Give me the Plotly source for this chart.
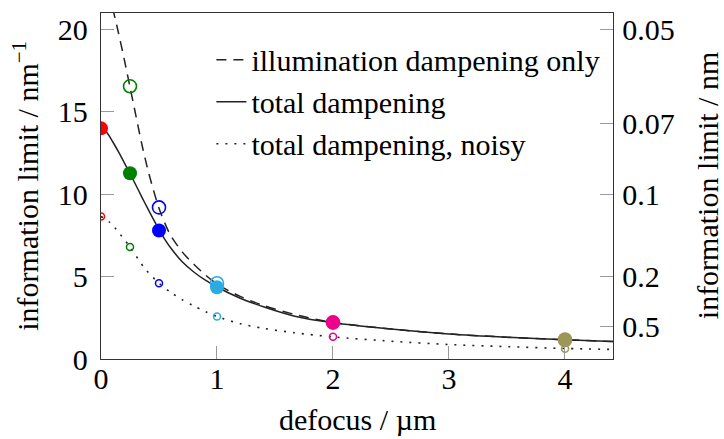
import plotly.graph_objects as go

# ---- data ----
defocus_pts = [0, 0.25, 0.5, 1, 2, 4]
pt_colors = ["#FF0000", "#008000", "#0000FF", "#2AACE2", "#EC008C", "#9C9755"]

total_pts = [14.0, 11.27, 7.8, 4.35, 2.2, 1.2]
illum_pts_x = [0.25, 0.5, 1, 2, 4]
illum_pts = [16.55, 9.2, 4.6, 2.22, 1.15]
illum_colors = pt_colors[1:]
noisy_pts = [8.65, 6.8, 4.6, 2.58, 1.35, 0.62]

total_x = [0, 0.05, 0.1, 0.15, 0.2, 0.25, 0.3, 0.35, 0.4, 0.45, 0.5, 0.55, 0.6, 0.7, 0.8, 0.9, 1.0,
           1.2, 1.4, 1.67, 2.0, 2.5, 3.0, 3.5, 4.0, 4.414]
total_y = [14.0, 13.75, 13.2, 12.58, 11.92, 11.26, 10.56, 9.86, 9.17, 8.5, 7.85, 7.26, 6.75, 5.9, 5.28, 4.78, 4.37,
           3.69, 3.17, 2.6, 2.2, 1.82, 1.52, 1.32, 1.17, 1.06]

illum_x = [0.1, 0.144, 0.2, 0.25, 0.3, 0.35, 0.4, 0.45, 0.5, 0.55, 0.6, 0.7, 0.8, 0.9, 1.0,
           1.2, 1.4, 1.7, 2.0, 2.5, 3.0, 3.5, 4.0, 4.414]
illum_y = [21.3, 20.0, 18.2, 16.5, 14.8, 13.1, 11.6, 10.3, 9.15, 8.25, 7.5, 6.5, 5.75, 5.1, 4.55,
           3.8, 3.25, 2.65, 2.22, 1.82, 1.52, 1.32, 1.17, 1.06]

noisy_x = [0, 0.075, 0.133, 0.25, 0.377, 0.5, 0.6, 0.7, 0.8, 0.9, 1.0, 1.2, 1.4, 1.67, 2.0, 2.5, 3.0, 3.5, 4.0, 4.414]
noisy_y = [8.65, 8.3, 7.85, 6.8, 5.5, 4.6, 4.05, 3.6, 3.22, 2.88, 2.58, 2.14, 1.86, 1.59, 1.34, 1.08, 0.88, 0.75, 0.64, 0.58]

left_ticks = [0, 5, 10, 15, 20]
x_ticks = [0, 1, 2, 3, 4]
right_tick_labels = ["0.05", "0.07", "0.1", "0.2", "0.5"]   # nm
right_tick_vals = [1 / float(v) for v in right_tick_labels]

FONT = "Liberation Serif"
FS = 30

fig = go.Figure()

fig.add_trace(go.Scatter(x=illum_x, y=illum_y, mode="lines", name="illumination dampening only",
                         line=dict(color="#222", width=1.5, dash="10px,7px", shape="spline", smoothing=0.8),
                         legendgroup="a"))
fig.add_trace(go.Scatter(x=total_x, y=total_y, mode="lines", name="total dampening",
                         line=dict(color="#222", width=1.5, shape="spline", smoothing=0.8),
                         legendgroup="b"))
fig.add_trace(go.Scatter(x=noisy_x, y=noisy_y, mode="lines", name="total dampening, noisy",
                         line=dict(color="#222", width=1.6, dash="2px,7px", shape="spline", smoothing=0.8),
                         legendgroup="c"))

# illumination-only markers (open, large)
fig.add_trace(go.Scatter(x=illum_pts_x, y=illum_pts, mode="markers", showlegend=False,
                         marker=dict(symbol="circle-open", size=13, color=illum_colors,
                                     line=dict(width=1.6, color=illum_colors))))
# total dampening markers (filled)
fig.add_trace(go.Scatter(x=defocus_pts, y=total_pts, mode="markers", showlegend=False,
                         marker=dict(symbol="circle", size=14, color=pt_colors, line=dict(width=0))))
# noisy markers (open, small)
fig.add_trace(go.Scatter(x=defocus_pts, y=noisy_pts, mode="markers", showlegend=False,
                         marker=dict(symbol="circle-open", size=7, color=pt_colors,
                                     line=dict(width=1.5, color=pt_colors))))
# carrier for the right axis
fig.add_trace(go.Scatter(x=[0], y=[0], yaxis="y2", mode="markers", showlegend=False,
                         marker=dict(opacity=0), hoverinfo="skip"))

axis_common = dict(showgrid=False, zeroline=False, showline=True, linecolor="#333", linewidth=1.3,
                   ticks="inside", ticklen=13, tickwidth=1, tickcolor="#999", automargin=False,
                   tickfont=dict(family=FONT, size=FS, color="black"))

fig.update_layout(
    width=724, height=439,
    margin=dict(l=101, r=111, t=13, b=80),
    paper_bgcolor="white", plot_bgcolor="white",
    font=dict(family=FONT, size=FS, color="black"),
    xaxis=dict(range=[0, 4.414], tickvals=x_ticks, mirror=True, ticklabelstandoff=-7, **axis_common),
    yaxis=dict(range=[0, 21], tickvals=left_ticks, ticklabelstandoff=6, **axis_common),
    yaxis2=dict(range=[0, 21], overlaying="y", side="right", tickvals=right_tick_vals,
                ticktext=right_tick_labels, ticklabelstandoff=2, **axis_common),
    legend=dict(x=0.2156, y=0.94, xanchor="left", yanchor="top", bgcolor="rgba(0,0,0,0)",
                font=dict(family=FONT, size=FS), tracegroupgap=0),
    showlegend=True,
    annotations=[
        dict(text="defocus / µm", xref="paper", yref="paper", x=0.5, y=-0.175,
             xanchor="center", yanchor="middle", showarrow=False, font=dict(family=FONT, size=FS)),
        dict(text="information limit / nm<sup>−1</sup>", xref="paper", yref="paper", x=-0.147, y=0.5,
             xanchor="center", yanchor="middle", textangle=-90, showarrow=False,
             font=dict(family=FONT, size=FS)),
        dict(text="information limit / nm", xref="paper", yref="paper", x=1.184, y=0.5,
             xanchor="center", yanchor="middle", textangle=-90, showarrow=False,
             font=dict(family=FONT, size=FS)),
    ],
)

fig.write_html("out.html", config={"displayModeBar": False},
               post_script="document.body.style.margin='0';document.body.style.overflow='hidden';")
